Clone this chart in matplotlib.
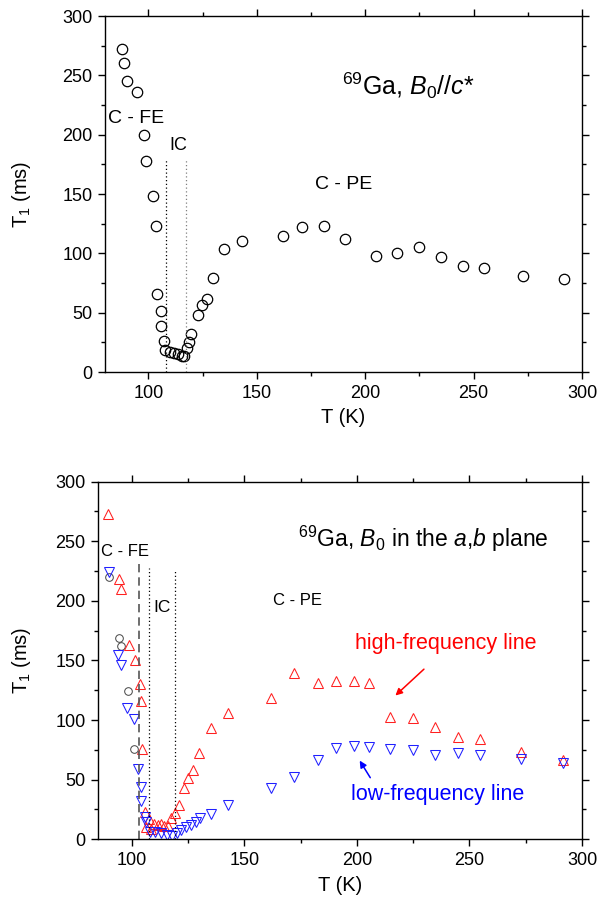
import matplotlib
matplotlib.use("Agg")
import matplotlib.pyplot as plt
from matplotlib.ticker import MultipleLocator

plt.rcParams["font.family"] = ["Liberation Sans", "DejaVu Sans"]
plt.rcParams["mathtext.fontset"] = "custom"
plt.rcParams["mathtext.rm"] = "Liberation Sans"
plt.rcParams["mathtext.it"] = "Liberation Sans:italic"

# top panel: 69Ga, B0 // c*
T_c = [88.0, 88.9, 90.1, 94.9, 98.1, 98.9, 102.1, 103.5, 103.9, 105.7, 105.7,
       107.4, 107.8, 110.0, 111.8, 113.8, 115.4, 116.6, 117.7, 118.7, 119.7,
       122.8, 124.9, 126.9, 130.0, 134.7, 143.1, 161.9, 171.0, 181.0, 190.7,
       205.0, 214.9, 225.0, 234.8, 245.0, 254.7, 272.7, 291.7]
T1_c = [272, 260, 245, 236, 200, 178, 148, 123, 66, 51, 38.5,
        26.4, 18.2, 17.1, 16.3, 14.9, 13.7, 13.2, 20, 25.5, 31.8,
        48, 56.5, 61.5, 79, 104, 110, 115, 122, 123, 112,
        98, 100, 105, 97, 89, 88, 81, 78]

# bottom panel: B0 in the a,b plane
T_hf = [89.6, 94.3, 95.4, 98.7, 101.3, 103.5, 104.3, 104.5, 105.9, 106.3,
        107.5, 108.5, 110.0, 111.5, 113.0, 114.5, 116.0, 117.5, 119.0, 120.8,
        123.0, 124.9, 127.0, 130.0, 135.2, 142.9, 161.7, 172.1, 182.9, 190.8,
        198.8, 205.2, 214.9, 224.8, 234.9, 244.8, 254.7, 272.8, 291.7]
T1_hf = [273, 218, 210, 163, 150, 130, 116, 76, 23, 10.5,
         16.8, 9, 12.8, 12, 12.8, 11.5, 11.2, 17.6, 21.8, 28.8,
         43.3, 51.2, 57.9, 72.7, 93.3, 105.7, 118.3, 139.8, 130.9, 133.1,
         133.1, 131.4, 102.9, 102, 94.5, 86.1, 83.9, 73.5, 66.5]

T_lf = [89.9, 94.0, 95.0, 97.9, 100.8, 102.9, 104.0, 104.0, 105.9, 106.3,
        108.1, 110.5, 113.0, 115.8, 118.0, 119.9, 121.9, 124.1, 126.2, 128.4,
        130.1, 135.1, 142.9, 161.7, 172.1, 182.9, 190.8, 198.8, 205.2, 214.9,
        224.8, 234.9, 244.8, 254.7, 272.8, 291.7]
T1_lf = [224, 155, 146, 110, 101, 59, 44, 32, 19, 14.8,
         6, 6, 5.5, 4, 2.5, 5, 8, 10.6, 12, 14.8,
         17.6, 21.2, 28.8, 42.8, 52, 66.5, 76.3, 78.5, 77.7, 75.5,
         74.9, 70.7, 72.1, 70.7, 67.1, 64.3]

T_bc = [90.0, 94.2, 95.2, 98.2, 100.8]
T1_bc = [220, 169, 162, 124, 76]


def style_axes(ax, xmin):
    ax.set_xlim(xmin, 300)
    ax.set_ylim(0, 300)
    ax.xaxis.set_major_locator(MultipleLocator(50))
    ax.xaxis.set_minor_locator(MultipleLocator(25))
    ax.yaxis.set_major_locator(MultipleLocator(50))
    ax.yaxis.set_minor_locator(MultipleLocator(25))
    ax.tick_params(which="both", direction="out", top=True, right=True,
                   labeltop=False, labelright=False, width=1.0)
    ax.tick_params(which="major", length=5, labelsize=13, pad=4)
    ax.tick_params(which="minor", length=3)
    for s in ax.spines.values():
        s.set_linewidth(1.0)
    ax.set_xlabel("T (K)", fontsize=14.5, labelpad=5)
    ax.set_ylabel("T$_1$ (ms)", fontsize=14.5)


fig = plt.figure(figsize=(6.11, 9.10), dpi=100)
ax1 = fig.add_axes([0.1718, 0.5912, 0.7807, 0.3912])
ax2 = fig.add_axes([0.1604, 0.0777, 0.7921, 0.3930])

# top panel
ax1.plot(T_c, T1_c, "o", ms=7.5, mfc="none", mec="black", mew=0.9)
ax1.vlines(108.1, 0, 179, colors="black", linestyles=(0, (1, 2)), lw=0.9)
ax1.vlines(117.6, 0, 179, colors="grey", linestyles=(0, (1, 2)), lw=0.9)
ax1.text(81.4, 214, "C - FE", fontsize=14, ha="left", va="center")
ax1.text(113.8, 191, "IC", fontsize=13, ha="center", va="center")
ax1.text(189.9, 157.6, "C - PE", fontsize=14, ha="center", va="center")
ax1.text(189.2, 241, r"$^{69}$Ga, $\mathit{B_0}$//$\mathit{c}$*", fontsize=18,
         ha="left", va="center")
style_axes(ax1, 80)
ax1.yaxis.set_label_coords(-0.151, 0.5)

# bottom panel
ax2.plot(T_bc, T1_bc, "o", ms=5.5, mfc="none", mec="#444444", mew=0.7)
ax2.plot(T_hf, T1_hf, "^", ms=6.5, mfc="none", mec="#ff2020", mew=0.75)
ax2.plot(T_lf, T1_lf, "v", ms=6.5, mfc="none", mec="#2020ff", mew=0.75)
ax2.vlines(103.1, 0, 232, colors="#555555", linestyles=(0, (5, 3)), lw=1.2)
ax2.vlines(107.8, 0, 227.6, colors="black", linestyles=(0, (1, 2)), lw=0.9)
ax2.vlines(119.0, 0, 224.7, colors="black", linestyles=(0, (1, 2)), lw=0.9)
ax2.text(86.4, 241, "C - FE", fontsize=12, ha="left", va="center")
ax2.text(113.4, 194.6, "IC", fontsize=12.5, ha="center", va="center")
ax2.text(173.8, 200.2, "C - PE", fontsize=12, ha="center", va="center")
ax2.text(174.0, 252,
         r"$^{69}$Ga, $\mathit{B_0}$ in the $\mathit{a}$,$\mathit{b}$ plane",
         fontsize=16.5, ha="left", va="center")
ax2.text(239.6, 164.4, "high-frequency line", color="red", fontsize=15.5,
         ha="center", va="center")
ax2.text(235.9, 37.2, "low-frequency line", color="blue", fontsize=15.5,
         ha="center", va="center")
ax2.annotate("", xy=(216.2, 119), xytext=(230.7, 144.3),
             arrowprops=dict(arrowstyle="-|>", color="red", lw=1.1,
                             mutation_scale=10))
ax2.annotate("", xy=(200.6, 68), xytext=(206.6, 49.7),
             arrowprops=dict(arrowstyle="-|>", color="blue", lw=1.1,
                             mutation_scale=10))
style_axes(ax2, 85)
ax2.yaxis.set_label_coords(-0.134, 0.5)

fig.savefig("out.png", dpi=100)
